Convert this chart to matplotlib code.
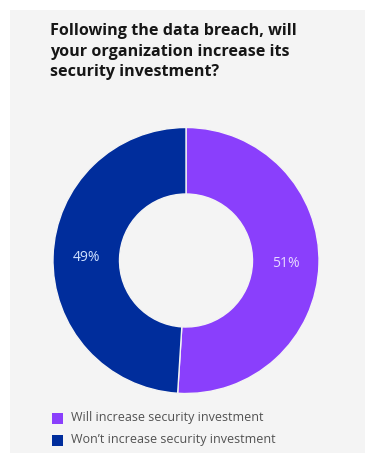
import matplotlib
matplotlib.use("Agg")
import matplotlib.pyplot as plt
from matplotlib.patches import Rectangle

title = "Following the data breach, will\nyour organization increase its\nsecurity investment?"
categories = ["Will increase security investment", "Won\u2019t increase security investment"]
values = [51, 49]
colors = ["#8a3ffc", "#002d9c"]
label_colors = ["#e8daff", "#d0e2ff"]

W, H = 365, 453
fig = plt.figure(figsize=(W / 100, H / 100), dpi=100)
fig.patch.set_facecolor("white")
fig.patches.append(Rectangle((10 / W, 0), 1, 1 - 10 / H, transform=fig.transFigure,
                             facecolor="#f4f4f4", edgecolor="none", zorder=-5))

fig.text(50 / W, 1 - 23 / H, title, ha="left", va="top", fontsize=11.6,
         fontweight="bold", family="Open Sans", color="#161616", linespacing=1.38)

cx, cy, r = 186, 260.5, 133
ax = fig.add_axes([(cx - r) / W, 1 - (cy + r) / H, 2 * r / W, 2 * r / H])
ax.set_zorder(2)
ax.set_facecolor("none")
wedges, texts, autotexts = ax.pie(values, colors=colors, startangle=90, counterclock=False,
                                  wedgeprops=dict(width=0.5, edgecolor="#f4f4f4", linewidth=1),
                                  autopct=lambda p: f"{p:.0f}%", pctdistance=0.75,
                                  textprops=dict(fontsize=10, family="Open Sans"))
for t, c in zip(autotexts, label_colors):
    t.set_color(c)
ax.set_xlim(-1, 1)
ax.set_ylim(-1, 1)
ax.set_aspect("equal")
ax.axis("off")

for i, (cat, col) in enumerate(zip(categories, colors)):
    y = 418 + i * 22
    fig.patches.append(Rectangle((52 / W, 1 - (y + 5.5) / H), 11 / W, 11 / H,
                                 transform=fig.transFigure, facecolor=col, edgecolor="none"))
    fig.text(71 / W, 1 - y / H, cat, ha="left", va="center", fontsize=9.0,
             family="Open Sans", color="#525252")

fig.savefig("out.png", dpi=100, facecolor=fig.get_facecolor())
